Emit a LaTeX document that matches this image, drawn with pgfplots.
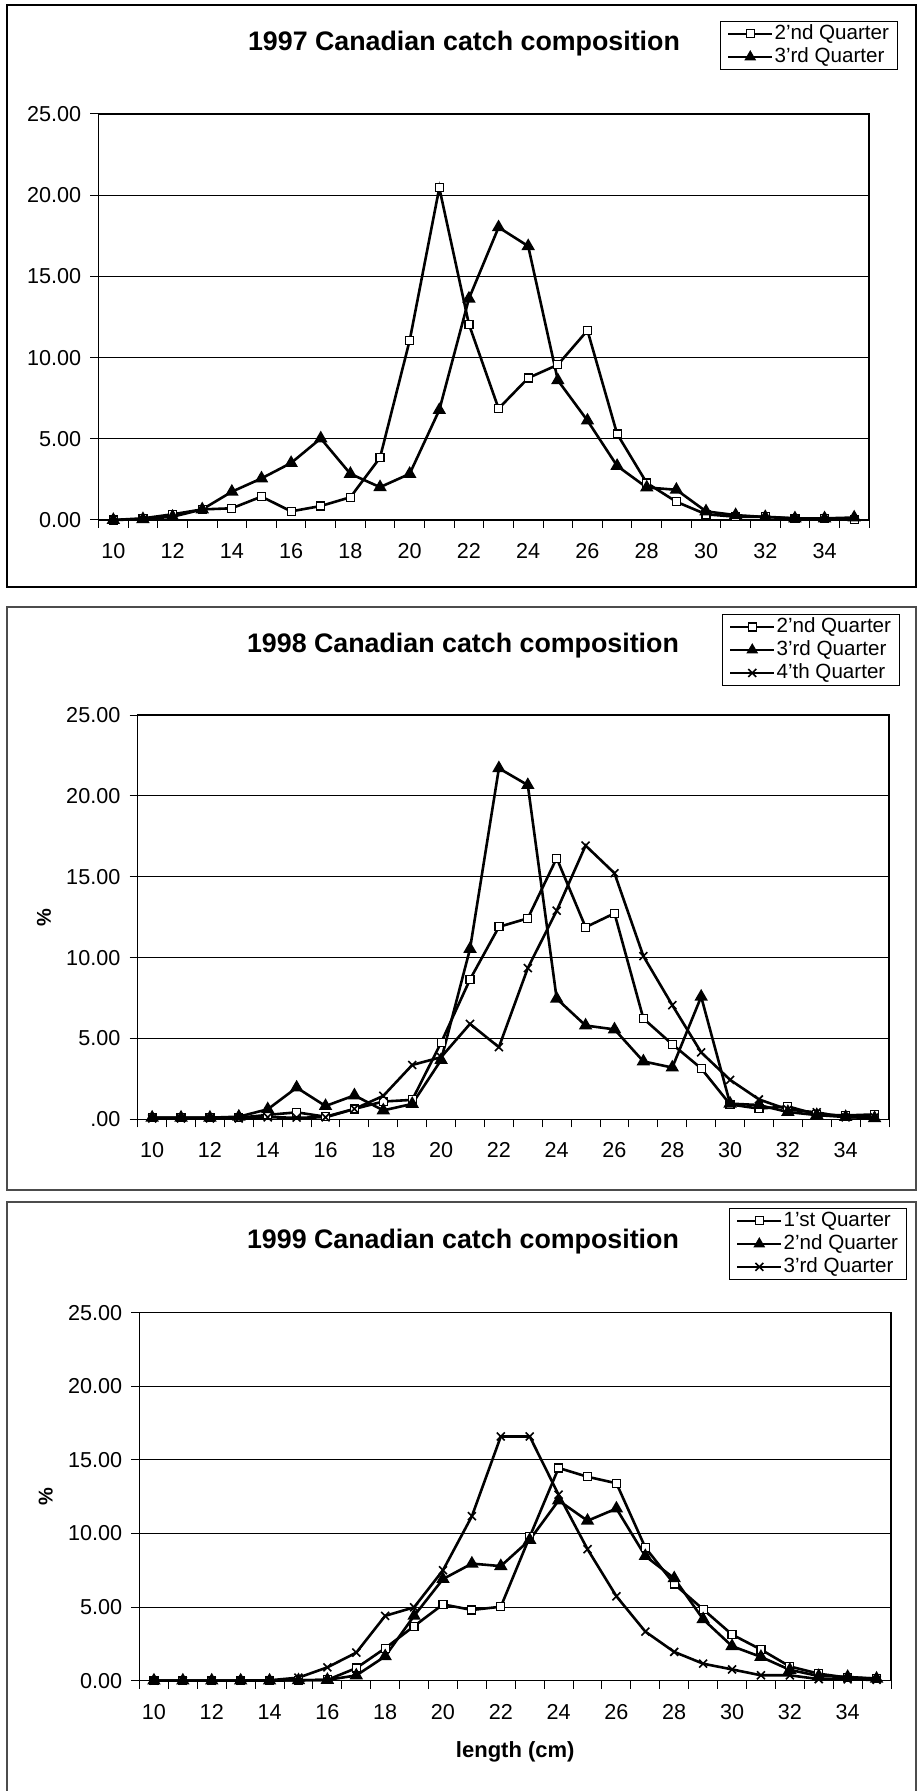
\documentclass[border=0pt]{standalone}
\usepackage{fontspec}
\setmainfont{Liberation Sans}
\usepackage{pgfplots}
\usepackage{pgfplotstable}
\pgfplotsset{compat=1.18}

% Length composition (% of catch) by quarter
\pgfplotstableread{
len  qa     qb
10   0.00   0.00
11   0.10   0.05
12   0.35   0.20
13   0.65   0.65
14   0.72   1.74
15   1.44   2.56
16   0.53   3.51
17   0.86   5.02
18   1.40   2.84
19   3.84   2.02
20   11.05  2.84
21   20.45  6.77
22   12.05  13.63
23   6.86   18.02
24   8.74   16.86
25   9.56   8.60
26   11.67  6.12
27   5.30   3.33
28   2.28   2.00
29   1.12   1.86
30   0.35   0.53
31   0.20   0.30
32   0.20   0.18
33   0.10   0.10
34   0.07   0.10
35   0.05   0.15
}\catchA

\pgfplotstableread{
len  qa     qb     qc
10   0.10   0.10   0.05
11   0.10   0.10   0.05
12   0.10   0.10   0.05
13   0.10   0.16   0.05
14   0.27   0.62   0.12
15   0.43   1.96   0.10
16   0.16   0.82   0.12
17   0.64   1.48   0.64
18   1.10   0.55   1.45
19   1.20   0.95   3.36
20   4.74   3.67   3.84
21   8.65   10.54  5.90
22   11.90  21.71  4.46
23   12.43  20.67  9.35
24   16.15  7.46   12.90
25   11.88  5.80   16.93
26   12.74  5.56   15.22
27   6.23   3.58   10.09
28   4.64   3.20   7.06
29   3.15   7.58   4.14
30   0.92   0.97   2.44
31   0.66   0.88   1.23
32   0.80   0.45   0.60
33   0.30   0.26   0.43
34   0.24   0.14   0.12
35   0.30   0.07   0.12
}\catchB

\pgfplotstableread{
len  qa     qb     qc
10   0.00   0.00   0.00
11   0.00   0.00   0.00
12   0.00   0.00   0.00
13   0.00   0.00   0.00
14   0.00   0.00   0.02
15   0.02   0.02   0.20
16   0.05   0.05   0.90
17   0.85   0.35   1.90
18   2.20   1.65   4.40
19   3.70   4.40   4.98
20   5.18   6.90   7.50
21   4.80   7.95   11.17
22   5.02   7.78   16.59
23   9.77   9.56   16.59
24   14.45  12.24  12.63
25   13.85  10.86  8.93
26   13.41  11.69  5.73
27   9.04   8.46   3.33
28   6.56   6.95   1.95
29   4.84   4.17   1.15
30   3.13   2.34   0.76
31   2.11   1.61   0.36
32   0.96   0.73   0.36
33   0.47   0.31   0.10
34   0.20   0.25   0.08
35   0.15   0.13   0.05
}\catchC

\pgfplotsset{
  catch/.style={
    scale only axis,
    anchor=north west,
    xmin=9.5, xmax=35.5,
    ymin=0, ymax=25,
    xtick={10,12,...,34},
    xticklabels={10,12,14,16,18,20,22,24,26,28,30,32,34},
    minor xtick={9.5,10.5,...,35.5},
    ytick={0,5,...,25},
    minor ytick={0,5,...,25},
    tick pos=left,
    major tick length=0pt,
    minor tick length=4pt,
    tick align=outside,
    tick style={black, line width=0.5pt},
    ymajorgrids,
    major grid style={black, line width=0.5pt},
    axis line style={black, line width=0.6pt},
    tick label style={font=\fontsize{10.8}{12}\selectfont},
    xticklabel style={anchor=center, yshift=-15.5pt, inner sep=0pt},
    yticklabel style={anchor=east, xshift=-8.5pt, inner sep=0pt},
    every axis plot/.append style={black, line width=1.3pt},
    legend style={draw=black, line width=0.4pt, fill=white,
      font=\fontsize{10.3}{11}\selectfont, anchor=north east,
      inner xsep=3.5pt, inner ysep=0.5pt, row sep=0pt,
      nodes={inner sep=0.75pt, text height=7.6pt, text depth=2.4pt},
      cells={anchor=west}},
    legend image code/.code={\draw[mark repeat=2,mark phase=2,#1,line width=0.8pt]
      plot coordinates {(0pt,0pt)(11pt,0pt)(22pt,0pt)};},
    ylabel style={font=\bfseries\fontsize{10}{12}\selectfont, anchor=center},
    xlabel style={font=\bfseries\fontsize{11}{13}\selectfont, anchor=center},
    clip=false,
  },
  sq/.style={mark=square*, mark options={fill=white, solid, line width=0.6pt}, mark size=2pt},
  tri/.style={mark=triangle*, mark options={fill=black, solid}, mark size=2.6pt},
  crs/.style={mark=x, mark options={solid, line width=0.8pt}, mark size=2.8pt},
}

\begin{document}
\begin{tikzpicture}
\useasboundingbox (0,0) rectangle (459.5pt,895.5pt);

% chart frames
\draw[black, line width=1pt] (3.5pt,602pt) rectangle (458pt,893pt);
\draw[black!70, line width=0.7pt] (3.5pt,300.5pt) rectangle (458pt,592pt);
\draw[black!70, line width=0.7pt] (3.5pt,-5pt) rectangle (458pt,294.5pt);

% 1997
\begin{axis}[catch, at={(49.25pt,838.5pt)}, width=385.25pt, height=203pt,
  yticklabels={0.00,5.00,10.00,15.00,20.00,25.00},
  legend style={at={(1.0376,1.229)}}]
\addplot[sq] table[x=len,y=qa]{\catchA};
\addlegendentry{2'nd Quarter}
\addplot[tri] table[x=len,y=qb]{\catchA};
\addlegendentry{3'rd Quarter}
\end{axis}
\node[anchor=base, font=\bfseries\fontsize{13.4}{15}\selectfont] at (232pt,870.4pt) {1997 Canadian catch composition};

% 1998
\begin{axis}[catch, at={(68.85pt,537.95pt)}, width=375.65pt, height=202.1pt,
  yticklabels={.00,5.00,10.00,15.00,20.00,25.00},
  ylabel={\%}, ylabel style={at={(-0.1247,0.5)}},
  legend style={at={(1.0146,1.250)}}]
\addplot[sq] table[x=len,y=qa]{\catchB};
\addlegendentry{2'nd Quarter}
\addplot[tri] table[x=len,y=qb]{\catchB};
\addlegendentry{3'rd Quarter}
\addplot[crs] table[x=len,y=qc]{\catchB};
\addlegendentry{4'th Quarter}
\end{axis}
\node[anchor=base, font=\bfseries\fontsize{13.4}{15}\selectfont] at (231.5pt,569.35pt) {1998 Canadian catch composition};

% 1999
\begin{axis}[catch, at={(69.75pt,239.15pt)}, width=375.75pt, height=183.95pt,
  yticklabels={0.00,5.00,10.00,15.00,20.00,25.00},
  ylabel={\%}, ylabel style={at={(-0.1248,0.5)}},
  xlabel={length (cm)}, xlabel style={at={(0.5,-0.1927)}},
  legend style={at={(1.0213,1.2846)}}]
\addplot[sq] table[x=len,y=qa]{\catchC};
\addlegendentry{1'st Quarter}
\addplot[tri] table[x=len,y=qb]{\catchC};
\addlegendentry{2'nd Quarter}
\addplot[crs] table[x=len,y=qc]{\catchC};
\addlegendentry{3'rd Quarter}
\end{axis}
\node[anchor=base, font=\bfseries\fontsize{13.4}{15}\selectfont] at (231.5pt,271.35pt) {1999 Canadian catch composition};
\end{tikzpicture}
\end{document}
